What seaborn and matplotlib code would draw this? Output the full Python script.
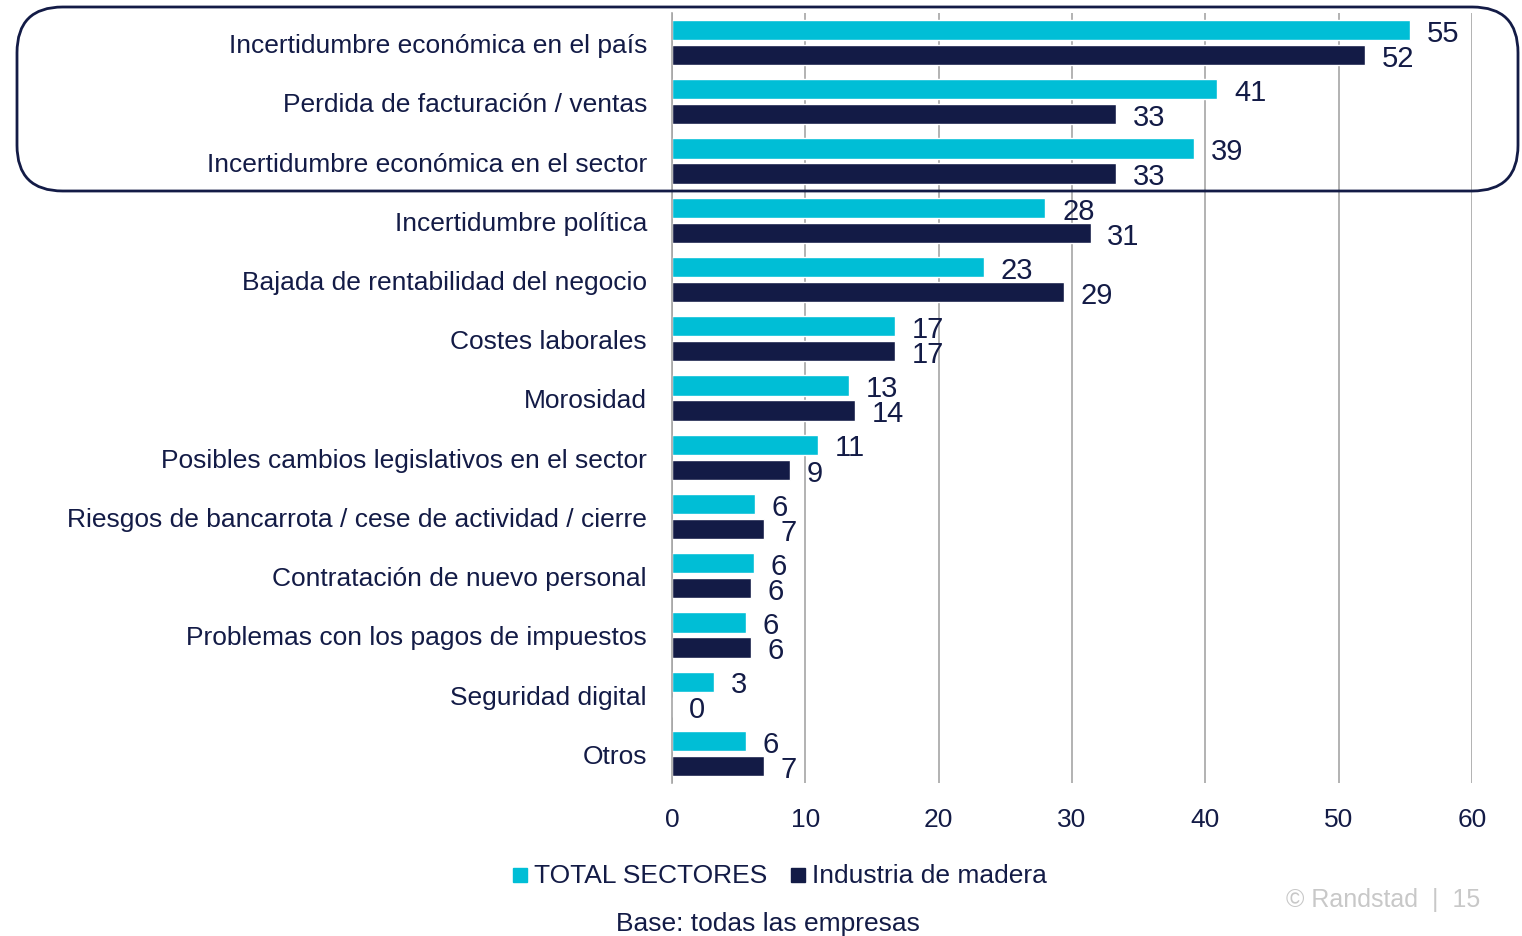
import matplotlib
matplotlib.use("Agg")
import matplotlib.pyplot as plt
import seaborn as sns
import pandas as pd
from matplotlib.patches import FancyBboxPatch, Rectangle

categories = [
    "Incertidumbre económica en el país",
    "Perdida de facturación / ventas",
    "Incertidumbre económica en el sector",
    "Incertidumbre política",
    "Bajada de rentabilidad del negocio",
    "Costes laborales",
    "Morosidad",
    "Posibles cambios legislativos en el sector",
    "Riesgos de bancarrota / cese de actividad / cierre",
    "Contratación de nuevo personal",
    "Problemas con los pagos de impuestos",
    "Seguridad digital",
    "Otros",
]
total_sectores = [55.35, 40.9, 39.15, 28.0, 23.4, 16.7, 13.3, 10.95, 6.2, 6.15, 5.55, 3.15, 5.55]
industria_madera = [52.0, 33.3, 33.3, 31.4, 29.4, 16.7, 13.7, 8.85, 6.9, 5.9, 5.9, 0.0, 6.9]
series_names = ["TOTAL SECTORES", "Industria de madera"]
x_ticks = [0, 10, 20, 30, 40, 50, 60]

CYAN = "#00BED6"
NAVY = "#131B46"
GRID = "#A6A6A6"

sns.set_style("white")
plt.rcParams["font.family"] = ["Liberation Sans", "DejaVu Sans"]

df = pd.DataFrame({
    "cat": categories * 2,
    "val": total_sectores + industria_madera,
    "serie": [series_names[0]] * len(categories) + [series_names[1]] * len(categories),
})

fig = plt.figure(figsize=(15.22, 9.37), dpi=100)
ax = fig.add_axes([672 / 1522, 1 - 784 / 937, 800 / 1522, 770 / 937])

sns.barplot(data=df, y="cat", x="val", hue="serie", order=categories,
            hue_order=series_names, palette=[CYAN, NAVY], orient="h",
            width=0.845, gap=0.19, ax=ax, legend=False, saturation=1)

ax.set_xlim(0, 60)
ax.set_ylim(12.5, -0.5)
ax.set_xticks(x_ticks)
ax.set_xlabel("")
ax.set_ylabel("")
ax.xaxis.grid(True, color=GRID, lw=1.2)
ax.set_axisbelow(True)
for s in ["top", "right", "bottom"]:
    ax.spines[s].set_visible(False)
ax.spines["left"].set_color(GRID)
ax.spines["left"].set_linewidth(1.2)
ax.tick_params(axis="both", length=0, colors=NAVY, labelsize=19)
ax.tick_params(axis="y", pad=18)
ax.tick_params(axis="x", pad=17)

for cont, vals in zip(ax.containers, [total_sectores, industria_madera]):
    anns = ax.bar_label(cont, labels=[f"{v:.0f}" for v in vals], padding=12,
                        fontsize=21, color=NAVY)
    for a in anns:
        a.xyann = (12, -2)

# rounded highlight box
box = FancyBboxPatch((17 / 1522, 1 - 192 / 937), (1518 - 17) / 1522, (192 - 8) / 937,
                     boxstyle="round,pad=0,rounding_size=0.03",
                     transform=fig.transFigure, fill=False, edgecolor=NAVY,
                     lw=2, mutation_aspect=1522 / 937)
fig.patches.append(box)

# legend
for x0, col, name in [(513, CYAN, series_names[0]), (791, NAVY, series_names[1])]:
    fig.patches.append(Rectangle((x0 / 1522, 1 - 883 / 937), 14 / 1522, 14 / 937,
                                 transform=fig.transFigure, color=col))
    fig.text((x0 + 21) / 1522, 1 - 876 / 937, name, fontsize=19, color=NAVY,
             va="center", ha="left")

fig.text(768 / 1522, 1 - 924 / 937, "Base: todas las empresas", fontsize=19,
         color=NAVY, ha="center", va="center")
fig.text(1480 / 1522, 1 - 900 / 937, "© Randstad  |  15", fontsize=18,
         color="#C8C8C8", ha="right", va="center")

fig.savefig("out.png", dpi=100)
